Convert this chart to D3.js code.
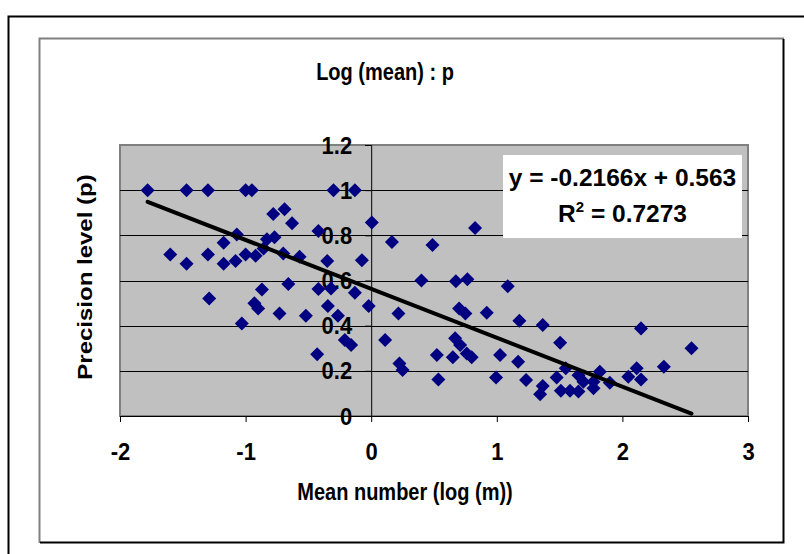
<!DOCTYPE html>
<html>
<head>
<meta charset="utf-8">
<script src="https://cdn.jsdelivr.net/npm/d3@7"></script>
<style>
  html, body { margin: 0; padding: 0; background: #fff; }
  svg { display: block; }
  text { font-family: "Liberation Sans", Arial, sans-serif; font-weight: bold; fill: #000; }
</style>
</head>
<body>
<svg id="chart" width="804" height="554"></svg>
<script>
// ---- data ----
const xValues = [-1.78,-1.47,-1.30,-1.00,-0.95,-0.30,-0.13,-0.78,-0.69,-0.63,0.005,-1.07,-0.42,-1.175,-0.83,-0.77,
  -1.60,-1.47,-1.30,-1.175,-1.08,-1.00,-0.92,-0.857,-0.70,-0.57,-0.35,-0.074,-1.29,-0.87,-0.66,-0.42,-0.32,-0.13,
  -0.02,-0.93,-0.90,-0.73,-0.52,-0.345,-0.265,-1.03,-0.21,-0.16,-0.43,0.165,0.488,0.827,0.40,0.674,0.766,1.087,
  0.217,0.70,0.75,0.92,1.18,1.366,2.148,0.111,0.668,0.708,1.504,2.55,0.523,0.65,0.761,0.80,1.026,1.17,0.225,0.25,
  0.535,0.994,1.233,1.366,1.345,1.477,1.549,1.51,1.583,1.65,1.65,1.69,1.77,1.77,1.82,1.90,2.047,2.114,2.148,2.33];
const yValues = [1.0,1.0,1.0,1.0,1.0,1.0,1.0,0.894,0.916,0.853,0.857,0.804,0.819,0.767,0.783,0.792,
  0.715,0.674,0.715,0.674,0.686,0.715,0.71,0.742,0.72,0.705,0.686,0.69,0.52,0.56,0.584,0.562,0.565,0.546,
  0.487,0.499,0.476,0.454,0.444,0.487,0.444,0.41,0.336,0.314,0.273,0.771,0.757,0.833,0.60,0.597,0.606,0.575,
  0.454,0.476,0.454,0.457,0.422,0.403,0.388,0.336,0.344,0.314,0.324,0.30,0.27,0.26,0.277,0.26,0.27,0.24,0.233,0.204,
  0.162,0.171,0.159,0.133,0.096,0.171,0.211,0.112,0.112,0.108,0.18,0.152,0.123,0.152,0.196,0.147,0.174,0.211,0.162,0.218];
const xTicks = [-2,-1,0,1,2,3];
const yTicks = [0,0.2,0.4,0.6,0.8,1,1.2];
const trendSlope = -0.2166;
const trendIntercept = 0.563;
const rSquared = "0.7273";
const chartTitle = "Log (mean) : p";
const xTitle = "Mean number (log (m))";
const yTitle = "Precision level (p)";

// ---- layout ----
const svg = d3.select("#chart");
const plot = {left: 120, right: 748, top: 145, bottom: 416};
const x = d3.scaleLinear().domain([-2, 3]).range([plot.left, plot.right]);
const y = d3.scaleLinear().domain([0, 1.2]).range([plot.bottom, plot.top]);
const FONT = "Liberation Sans, Arial, sans-serif";

// outer frame (cropped)
svg.append("rect").attr("x", 8.5).attr("y", 16.5).attr("width", 1000).attr("height", 1000)
  .attr("fill", "none").attr("stroke", "#000").attr("stroke-width", 2);
// inner chart area frame
svg.append("path").attr("d", "M39.5,543 L39.5,38.5 L784,38.5").attr("fill", "none").attr("stroke", "#808080").attr("stroke-width", 2);
svg.append("path").attr("d", "M40,542.5 L783.5,542.5 L783.5,39").attr("fill", "none").attr("stroke", "#000").attr("stroke-width", 2);

// plot area
svg.append("rect").attr("x", plot.left).attr("y", plot.top)
  .attr("width", plot.right - plot.left).attr("height", plot.bottom - plot.top)
  .attr("fill", "#c0c0c0").attr("stroke", "#808080").attr("stroke-width", 2);

// gridlines
svg.append("g").selectAll("line").data(yTicks.filter(d => d > 0 && d < 1.2)).join("line")
  .attr("x1", plot.left).attr("x2", plot.right)
  .attr("y1", d => Math.round(y(d)) + 0.5).attr("y2", d => Math.round(y(d)) + 0.5)
  .attr("stroke", "#000").attr("stroke-width", 1);

// axes
const xAxis = d3.axisBottom(x).tickValues(xTicks).tickFormat(d => String(d)).tickSize(6).tickPadding(0);
const gx = svg.append("g").attr("transform", `translate(0,${y(0)})`).call(xAxis);
gx.selectAll(".tick text").attr("font-size", 22).attr("font-family", FONT).attr("font-weight", "bold")
  .attr("dy", null).attr("y", 0).attr("transform", "translate(0,44) scale(1,1.1)");
gx.select(".domain").attr("stroke", "#000");

const yAxis = d3.axisLeft(y).tickValues(yTicks).tickFormat(d => String(d)).tickSize(6).tickPadding(0);
const gy = svg.append("g").attr("transform", `translate(${x(0)},0)`).call(yAxis);
gy.selectAll(".tick text").attr("font-size", 22).attr("font-family", FONT).attr("font-weight", "bold")
  .attr("x", 0).attr("dy", null).attr("y", 0).attr("transform", "translate(-19,8) scale(1,1.1)");
gy.select(".domain").attr("stroke", "#000");

// points
const pts = xValues.map((v, i) => ({x: v, y: yValues[i]}));
const diamond = d3.symbol().type(d3.symbolDiamond2).size(125);
svg.append("g").selectAll("path").data(pts).join("path")
  .attr("d", diamond)
  .attr("transform", d => `translate(${x(d.x)},${y(d.y)})`)
  .attr("fill", "#000080");

// trendline
const xMin = d3.min(xValues), xMax = d3.max(xValues);
svg.append("line")
  .attr("x1", x(xMin)).attr("y1", y(trendSlope * xMin + trendIntercept))
  .attr("x2", x(xMax)).attr("y2", y(trendSlope * xMax + trendIntercept))
  .attr("stroke", "#000").attr("stroke-width", 4).attr("stroke-linecap", "round");

// equation box
svg.append("rect").attr("x", 503).attr("y", 155).attr("width", 239).attr("height", 83).attr("fill", "#fff");
svg.append("text").attr("transform", "translate(622.5,186)").attr("text-anchor", "middle").attr("font-size", 24.5)
  .text(`y = ${trendSlope}x + ${trendIntercept}`);
const r2 = svg.append("text").attr("transform", "translate(622.5,222)").attr("text-anchor", "middle").attr("font-size", 24.5);
r2.append("tspan").text("R");
r2.append("tspan").attr("font-size", 15).attr("dy", -10).text("2");
r2.append("tspan").attr("dy", 10).text(` = ${rSquared}`);

// titles
svg.append("text").attr("transform", "translate(385,80) scale(1,1.15)").attr("text-anchor", "middle").attr("font-size", 20).text(chartTitle);
svg.append("text").attr("transform", "translate(405,500) scale(1,1.15)").attr("text-anchor", "middle").attr("font-size", 20).text(xTitle);
svg.append("text").attr("transform", "translate(92,277) scale(1,1.2) rotate(-90)").attr("text-anchor", "middle").attr("font-size", 20).text(yTitle);
</script>
</body>
</html>
